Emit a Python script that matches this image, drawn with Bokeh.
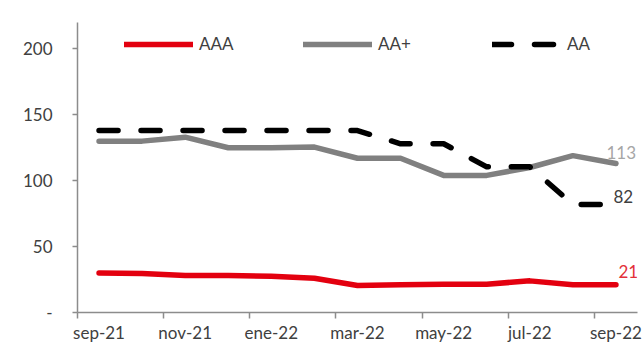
from bokeh.plotting import figure
from bokeh.models import FixedTicker, Legend, LegendItem, Range1d
from bokeh.core.properties import value
from bokeh.embed import file_html
from bokeh.resources import INLINE

months = ["sep-21", "oct-21", "nov-21", "dic-21", "ene-22", "feb-22", "mar-22",
          "abr-22", "may-22", "jun-22", "jul-22", "ago-22", "sep-22"]
aaa = [30, 29.5, 28, 28, 27.5, 26, 20.5, 21, 21.5, 21.5, 24, 21, 21]
aa_plus = [130, 130, 133, 125, 125, 125.5, 117, 117, 104, 104, 110, 119, 113]
aa = [138, 138, 138, 138, 138, 138, 138, 128, 128, 110.5, 110.5, 82, 82]
y_ticks = [0, 50, 100, 150, 200]

FONT = "Lato"
x = list(range(len(months)))

p = figure(width=642, height=345, output_backend="svg", toolbar_location=None,
           x_range=Range1d(-0.5, len(months) - 0.5), y_range=Range1d(0, 220),
           min_border_left=77, min_border_right=5, min_border_top=22, min_border_bottom=33)
p.outline_line_color = None
p.xgrid.grid_line_color = None
p.ygrid.grid_line_color = None
p.background_fill_color = "white"
p.border_fill_color = "white"

r_aaa = p.line(x, aaa, line_color="#e3000f", line_width=5.5, line_cap="round", line_join="round")
r_aap = p.line(x, aa_plus, line_color="#808080", line_width=5.5, line_cap="round", line_join="round")
r_aa = p.line(x, aa, line_color="#000000", line_width=5.5, line_cap="round", line_join="round",
              line_dash="19 23")

# end labels
lab_specs = [(aa_plus, "#a6a6a6", -9.5, -11), (aa, "#404040", -2.5, -8), (aaa, "#e3303a", 2.5, -13)]
for series, col, xo, yo in lab_specs:
    v = series[-1]
    p.text(x=[x[-1]], y=[v], text=[str(round(v))], text_color=col, text_font=value(FONT),
           text_font_size="17px", text_align="left", text_baseline="middle",
           x_offset=xo, y_offset=yo)

# axes
xa = p.xaxis[0]
xa.ticker = FixedTicker(ticks=x[::2], minor_ticks=[i - 0.5 for i in x[::2]])
xa.major_label_overrides = {i: months[i] for i in x[::2]}
xa.major_tick_line_color = None
xa.major_tick_out = 0
xa.major_tick_in = 0
xa.minor_tick_line_color = "#8c8c8c"
xa.minor_tick_line_width = 1.5
xa.minor_tick_out = 6
xa.minor_tick_in = 0
xa.axis_line_color = "#8c8c8c"
xa.axis_line_width = 1.5
xa.major_label_standoff = 3
xa.major_label_text_font = FONT
xa.major_label_text_font_size = "17px"
xa.major_label_text_color = "#404040"

ya = p.yaxis[0]
ya.ticker = FixedTicker(ticks=y_ticks, minor_ticks=[])
ya.major_label_overrides = {0: "-"}
ya.major_tick_line_color = "#8c8c8c"
ya.major_tick_line_width = 1.5
ya.major_tick_out = 5
ya.major_tick_in = 0
ya.axis_line_color = "#8c8c8c"
ya.axis_line_width = 1.5
ya.major_label_standoff = 20
ya.major_label_text_font = FONT
ya.major_label_text_font_size = "17px"
ya.major_label_text_color = "#404040"

# legends
for name, rend, loc in [("AAA", r_aaa, (47, 258)), ("AA+", r_aap, (226, 258)), ("AA", r_aa, (415, 258))]:
    lg = Legend(items=[LegendItem(label=name, renderers=[rend])], location=loc,
                orientation="horizontal", glyph_width=69, glyph_height=18, label_height=18,
                label_standoff=6, padding=0, margin=0, spacing=0,
                border_line_color=None, background_fill_alpha=0,
                label_text_font=FONT, label_text_font_size="17px", label_text_color="#404040")
    p.add_layout(lg, "center")

open("out.html", "w").write(file_html(p, INLINE))
